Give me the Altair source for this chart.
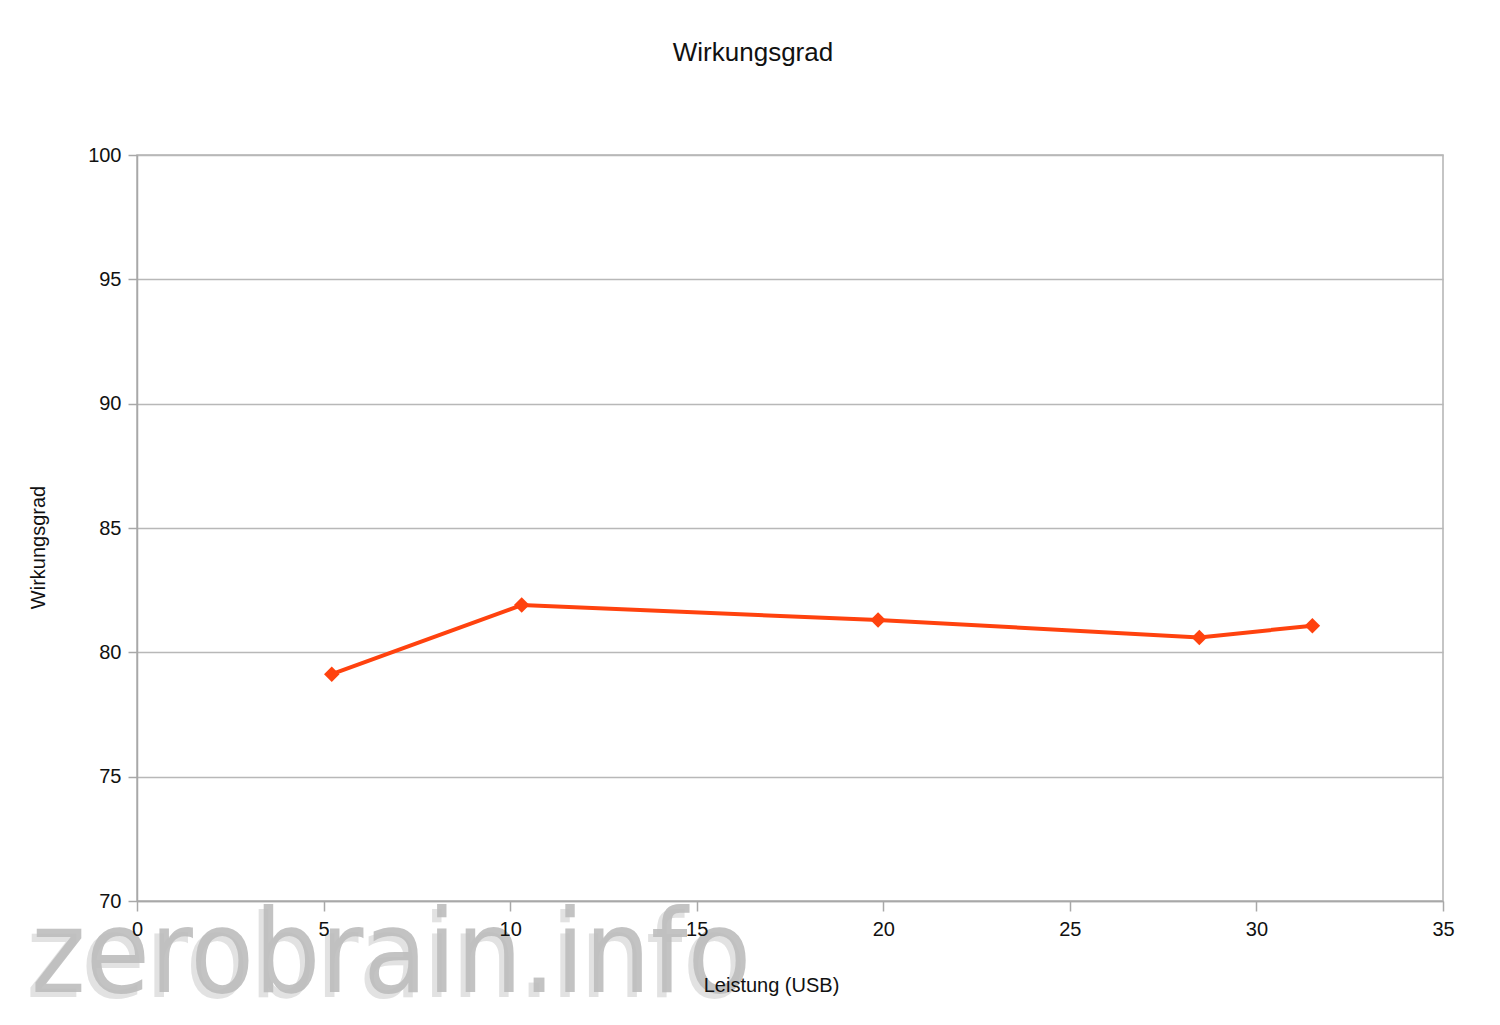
import altair as alt
import pandas as pd

leistung = [5.22, 10.31, 19.86, 28.47, 31.50]
wirkungsgrad = [79.12, 81.90, 81.30, 80.60, 81.07]

df = pd.DataFrame({"Leistung": leistung, "Wirkungsgrad": wirkungsgrad})
wm = pd.DataFrame({"t": ["zerobrain.info"]})

FONT = "Liberation Sans"
COLOR = "#FF420E"

x = alt.X("Leistung:Q",
          scale=alt.Scale(domain=[0, 35], nice=False, zero=False),
          axis=alt.Axis(title="Leistung (USB)", values=[0, 5, 10, 15, 20, 25, 30, 35],
                        grid=False, tickSize=10, labelPadding=8, zindex=1, labelFlush=False,
                        titleX=634, titleY=84, titleBaseline="middle", titleAlign="center"))
y = alt.Y("Wirkungsgrad:Q",
          scale=alt.Scale(domain=[70, 100], nice=False, zero=False),
          axis=alt.Axis(title="Wirkungsgrad", values=[70, 75, 80, 85, 90, 95, 100],
                        grid=True, tickSize=9, labelPadding=7, labelFlush=False,
                        titleX=-99, titleY=392, titleAngle=270,
                        titleBaseline="middle", titleAlign="center"))

line = alt.Chart(df).mark_line(color=COLOR, strokeWidth=4).encode(x=x, y=y)
pts = alt.Chart(df).mark_point(shape="diamond", filled=True, size=240, color=COLOR, opacity=1).encode(x=x, y=y)

wm_shadow = alt.Chart(wm).mark_text(font="DejaVu Sans Condensed", fontSize=116, color="#e2e2e2",
                                    align="left", baseline="alphabetic").encode(
    text="t:N", x=alt.value(-111), y=alt.value(842))
wm_main = alt.Chart(wm).mark_text(font="DejaVu Sans Condensed", fontSize=116, color="#bdbdbd",
                                  opacity=0.9, align="left", baseline="alphabetic").encode(
    text="t:N", x=alt.value(-106), y=alt.value(837))

chart = alt.layer(wm_shadow, wm_main, line, pts).properties(
    width=1306, height=746,
    background="white",
    title=alt.TitleParams("Wirkungsgrad", anchor="middle", dx=-37, offset=58,
                          baseline="alphabetic", font=FONT, fontSize=26,
                          fontWeight="normal", color="#111111"),
    autosize=alt.AutoSizeParams(type="none"),
    padding={"left": 129, "top": 147, "right": 49, "bottom": 124},
).configure_view(
    stroke="#b3b3b3", strokeWidth=1.5
).configure_axis(
    labelFont=FONT, labelFontSize=20, labelColor="#111111",
    titleFont=FONT, titleFontSize=20, titleFontWeight="normal", titleColor="#111111",
    domainColor="#a8a8a8", tickColor="#a8a8a8", gridColor="#b8b8b8",
    domainWidth=1.5, tickWidth=1.5, gridWidth=1.5
)

chart.save("out.html", embed_options={"renderer": "svg", "actions": False})
